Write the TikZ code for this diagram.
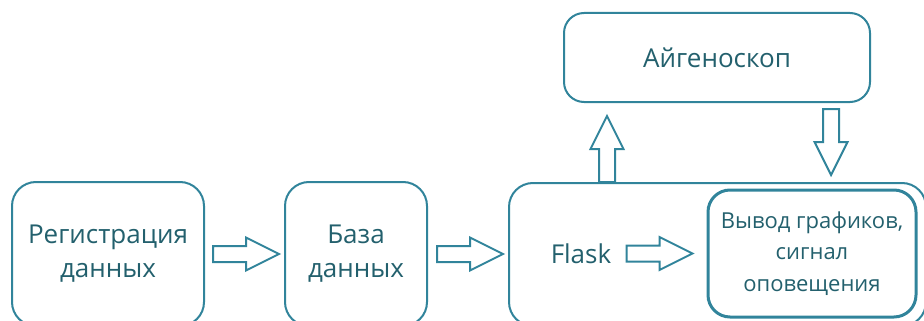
\documentclass[tikz,border=0pt]{standalone}
\usepackage{fontspec}
\setmainfont{Open Sans}
\usetikzlibrary{calc}

\definecolor{boxline}{HTML}{31849B}
\definecolor{boxtext}{HTML}{23606D}

\tikzset{
  block/.style={draw=boxline, line width=2pt, rounded corners=24pt,
    text=boxtext, align=center, inner sep=0pt,
    font=\fontsize{26}{34}\selectfont},
  fatarrow/.pic={
    \draw[draw=boxline, line width=2pt, fill=white, line join=miter]
      (0,-8) -- (33,-8) -- (33,-16.5) -- (66,0) -- (33,16.5) -- (33,8) -- (0,8) -- cycle;
  }
}

\begin{document}
\begin{tikzpicture}[x=1pt,y=-1pt]
  \useasboundingbox (0,0) rectangle (924,321);
  \clip (0,0) rectangle (924,321);

  % boxes
  \node[block, minimum width=192pt, minimum height=144pt] (reg) at (108,254)
    {Регистрация\\данных};
  \node[block, minimum width=142pt, minimum height=144pt] (db) at (356,254)
    {База\\данных};
  \node[block, minimum width=417pt, minimum height=143pt] (flask) at (717.5,254.5) {};
  \node[text=boxtext, font=\fontsize{26}{34}\selectfont] (fl) at (581,254) {Flask};
  \node[block, line width=3pt, rounded corners=22pt, minimum width=208pt,
    minimum height=127pt, font=\fontsize{22}{31.5}\selectfont] (out) at (812,253.5)
    {Вывод графиков,\\сигнал\\оповещения};
  \node[block, rounded corners=20pt, minimum width=306pt, minimum height=89pt]
    (eig) at (717,57.5) {Айгеноскоп};

  % arrows
  \pic at ($(reg.east)+(8,0)$) {fatarrow};
  \pic at ($(db.east)+(9,0)$) {fatarrow};
  \pic at ($(out.west)+(-80,0)$) {fatarrow};
  \pic[rotate=90] at (flask.north -| 607,0) {fatarrow};
  \pic[rotate=-90] at ($(eig.south -| 831,0)+(0,6)$) {fatarrow};
\end{tikzpicture}
\end{document}
